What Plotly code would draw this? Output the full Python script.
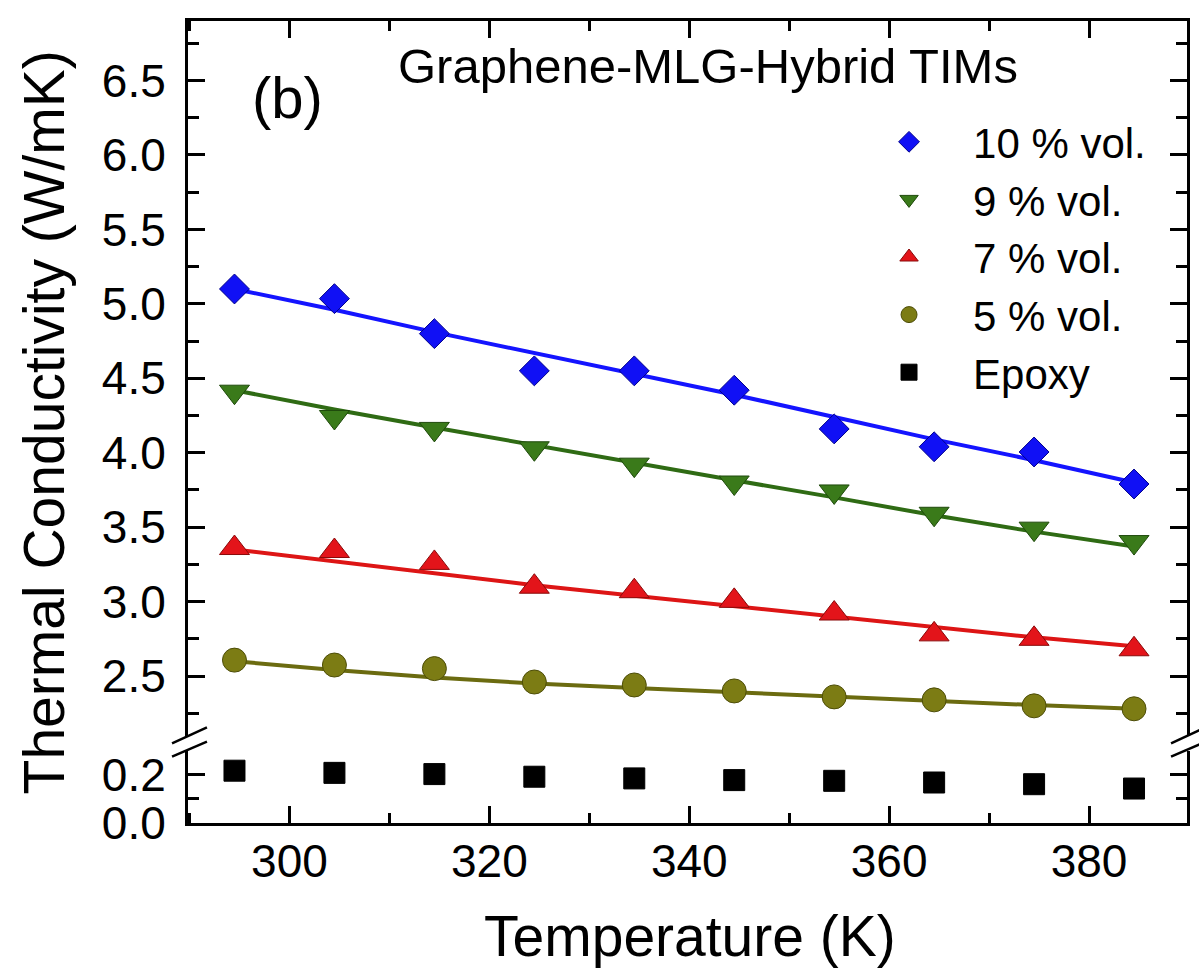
import plotly.graph_objects as go

# ---------------- data ----------------
temperature = [294.5, 304.5, 314.5, 324.5, 334.5, 344.5, 354.5, 364.5, 374.5, 384.5]

k_10 = [5.10, 5.035, 4.80, 4.55, 4.55, 4.42, 4.16, 4.04, 4.005, 3.79]
k_9 = [4.41, 4.24, 4.16, 4.03, 3.92, 3.80, 3.74, 3.59, 3.49, 3.40]
k_7 = [3.36, 3.34, 3.26, 3.10, 3.07, 3.005, 2.92, 2.78, 2.75, 2.68]
k_5 = [2.607, 2.574, 2.55, 2.46, 2.44, 2.40, 2.36, 2.34, 2.30, 2.28]
k_epoxy = [0.217, 0.208, 0.203, 0.192, 0.185, 0.178, 0.175, 0.168, 0.161, 0.143]

fit_10 = [5.10, 4.96, 4.81, 4.67, 4.53, 4.39, 4.24, 4.09, 3.95, 3.80]
fit_9 = [4.42, 4.29, 4.17, 4.05, 3.93, 3.815, 3.70, 3.58, 3.47, 3.37]
fit_7 = [3.35, 3.27, 3.19, 3.11, 3.04, 2.97, 2.90, 2.83, 2.76, 2.70]
fit_5 = [2.60, 2.54, 2.49, 2.45, 2.42, 2.39, 2.36, 2.33, 2.305, 2.28]

series_names = ["10 % vol.", "9 % vol.", "7 % vol.", "5 % vol.", "Epoxy"]

x_ticks = [300, 320, 340, 360, 380]
upper_ticks = [2.5, 3.0, 3.5, 4.0, 4.5, 5.0, 5.5, 6.0, 6.5]
lower_ticks = [0.0, 0.2]

# ---------------- styling ----------------
FONT = "Liberation Sans, Arial, Helvetica, sans-serif"
W, H = 1199, 968
L, R, T, B = 188, 1190, 21, 823          # plot frame in pixels
PW, PH = R - L, B - T

def px(xp):
    return (xp - L) / PW

def py(yp):
    return (B - yp) / PH

upper_dom = [py(735.6), 1.0]
lower_dom = [0.0, py(750.7)]

fig = go.Figure()

upper = [
    (k_10, fit_10, series_names[0], "diamond", 23, "#1010F5", "#00008B", "#1414ff"),
    (k_9, fit_9, series_names[1], "triangle-down", 26, "#3A7A1A", "#1f4a0c", "#2f6b14"),
    (k_7, fit_7, series_names[2], "triangle-up", 26, "#E3141A", "#8a0a0a", "#dd1515"),
    (k_5, fit_5, series_names[3], "circle", 24, "#7C7C14", "#4d4d08", "#6b6b10"),
]

# fitted lines first (under the markers)
for vals, fit, name, sym, size, fill, edge, lcol in upper:
    fig.add_trace(go.Scatter(
        x=temperature, y=fit, mode="lines", xaxis="x2", yaxis="y2",
        line=dict(color=lcol, width=4), showlegend=False, hoverinfo="skip"))

for vals, fit, name, sym, size, fill, edge, lcol in upper:
    fig.add_trace(go.Scatter(
        x=temperature, y=vals, mode="markers", name=name, xaxis="x2", yaxis="y2",
        marker=dict(symbol=sym, size=size, color=fill, line=dict(color=edge, width=1))))

fig.add_trace(go.Scatter(
    x=temperature, y=k_epoxy, mode="markers", name=series_names[4], xaxis="x", yaxis="y",
    marker=dict(symbol="square", size=21, color="#000000", line=dict(color="#000000", width=1))))

axis_common = dict(
    showline=True, linecolor="black", linewidth=3,
    ticks="inside", tickcolor="black", tickwidth=2.5, ticklen=17,
    showgrid=False, zeroline=False,
    tickfont=dict(family=FONT, size=46, color="black"),
)

xr = [289.85, 389.8]

fig.update_layout(
    width=W, height=H,
    margin=dict(l=L, r=W - R, t=T, b=H - B),
    paper_bgcolor="white", plot_bgcolor="white",
    font=dict(family=FONT, color="black"),
    xaxis=dict(
        **axis_common, range=xr, anchor="y", domain=[0, 1],
        tickvals=x_ticks, ticklabelstandoff=-4,
        minor=dict(ticks="inside", ticklen=10, tickwidth=2.5, tickcolor="black", dtick=10, tick0=300),
    ),
    xaxis2=dict(
        **axis_common, range=xr, anchor="y2", side="top", matches="x", domain=[0, 1],
        tickvals=x_ticks, showticklabels=False,
        minor=dict(ticks="inside", ticklen=10, tickwidth=2.5, tickcolor="black", dtick=10, tick0=300),
    ),
    yaxis=dict(
        **axis_common, range=[0, 0.30], domain=lower_dom, anchor="x", mirror="ticks",
        tickvals=lower_ticks, ticktext=["0.0", "0.2"], ticklabelstandoff=10,
        minor=dict(ticks="inside", ticklen=11, tickwidth=2.5, tickcolor="black", tickvals=[0.1]),
    ),
    yaxis2=dict(
        **axis_common, range=[2.10, 6.90], domain=upper_dom, anchor="x2", mirror="ticks",
        tickvals=upper_ticks, ticktext=[f"{v:.1f}" for v in upper_ticks], ticklabelstandoff=10,
        minor=dict(ticks="inside", ticklen=11, tickwidth=2.5, tickcolor="black", dtick=0.25, tick0=2.25),
    ),
    legend=dict(
        x=px(847), y=py(108), xanchor="left", yanchor="top",
        bgcolor="rgba(0,0,0,0)", borderwidth=0,
        font=dict(family=FONT, size=42, color="black"),
        itemsizing="trace", itemwidth=118, tracegroupgap=0,
    ),
    showlegend=True,
)

# axis titles and labels
fig.add_annotation(
    text="Thermal Conductivity (W/mK)", textangle=-90,
    xref="paper", yref="paper", x=px(44), y=py(422), xanchor="center", yanchor="middle",
    showarrow=False, font=dict(family=FONT, size=57, color="black"))
fig.add_annotation(
    text="Temperature (K)",
    xref="paper", yref="paper", x=px(692), y=py(936), xanchor="center", yanchor="middle",
    showarrow=False, font=dict(family=FONT, size=57, color="black"))
fig.add_annotation(
    text="Graphene-MLG-Hybrid TIMs",
    xref="paper", yref="paper", x=px(397), y=py(66), xanchor="left", yanchor="middle",
    showarrow=False, font=dict(family=FONT, size=49, color="black"))
fig.add_annotation(
    text="(b)",
    xref="paper", yref="paper", x=px(288), y=py(98), xanchor="center", yanchor="middle",
    showarrow=False, font=dict(family=FONT, size=58, color="black"))

# axis-break marks (double slashes) on both sides
for xc in (L, R):
    for (y0, y1) in ((743.3, 727.3), (756.7, 741.7)):
        fig.add_shape(type="line", xref="paper", yref="paper",
                      x0=px(xc - 16), x1=px(xc + 19), y0=py(y0), y1=py(y1),
                      line=dict(color="black", width=2.5))

fig.write_html("out.html", config={"displayModeBar": False},
               post_script="document.body.style.margin='0px';")
